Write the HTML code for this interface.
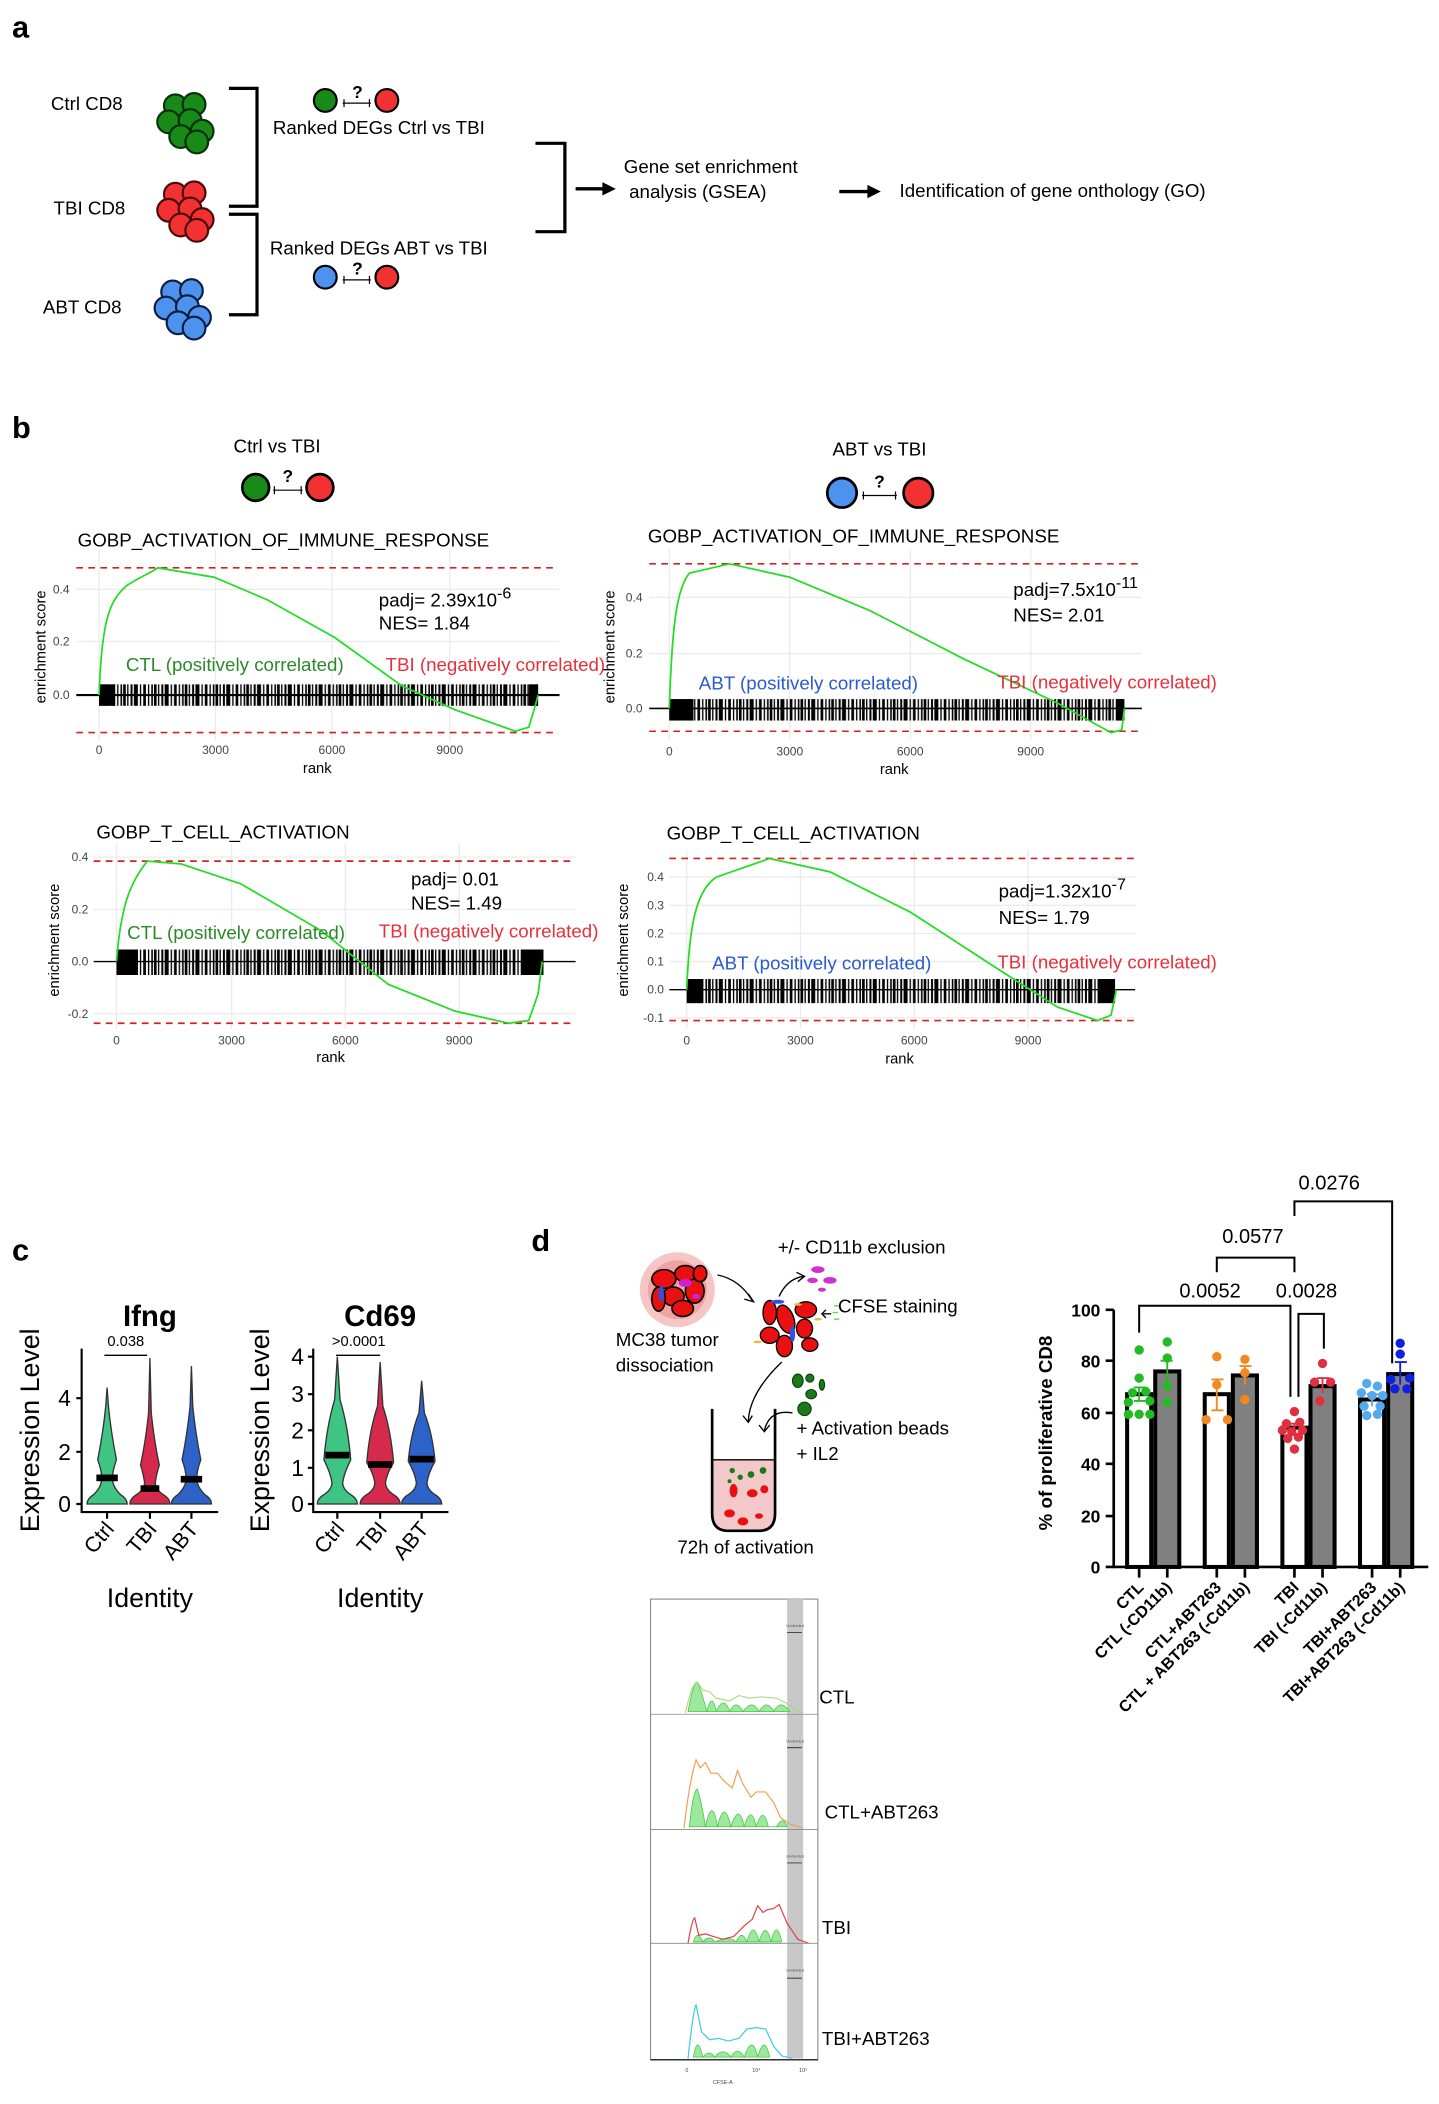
<!DOCTYPE html>
<html><head><meta charset="utf-8"><style>
html,body{margin:0;padding:0;background:#fff;}
svg{display:block;}
text{font-family:"Liberation Sans",Arial,sans-serif;}
</style></head><body>
<svg width="1439" height="2104" viewBox="0 0 1075 1571" preserveAspectRatio="none" xmlns="http://www.w3.org/2000/svg">
<defs>
<pattern id="bc" patternUnits="userSpaceOnUse" width="23" height="40" x="0" y="0">
<rect x="0" y="0" width="2" height="40" fill="#000"/><rect x="3" y="0" width="1" height="40" fill="#000"/>
<rect x="5.5" y="0" width="1.5" height="40" fill="#000"/><rect x="8" y="0" width="3" height="40" fill="#000"/>
<rect x="12.5" y="0" width="1" height="40" fill="#000"/><rect x="15" y="0" width="2" height="40" fill="#000"/>
<rect x="18.5" y="0" width="1" height="40" fill="#000"/><rect x="21" y="0" width="1.2" height="40" fill="#000"/>
</pattern>
<g id="cl">
<circle cx="-6" cy="-11" r="8.5"/><circle cx="8" cy="-12" r="8.5"/><circle cx="-11" cy="1" r="8.5"/>
<circle cx="5" cy="0" r="8.5"/><circle cx="14" cy="8" r="8.5"/><circle cx="-2" cy="12" r="8.5"/><circle cx="10" cy="16" r="8.5"/>
</g>
</defs>
<rect width="1075" height="1571" fill="#fff"/>

<!-- Panel a -->
<text x="9" y="28" font-size="23" font-weight="bold">a</text>
<g font-size="14">
<text x="38" y="82">Ctrl CD8</text>
<text x="40" y="160">TBI CD8</text>
<text x="32" y="234">ABT CD8</text>
</g>
<use href="#cl" x="137" y="90" fill="#178a17" stroke="#0b2e0b" stroke-width="1.6"/>
<use href="#cl" x="137" y="156" fill="#f23232" stroke="#4a0a0a" stroke-width="1.6"/>
<use href="#cl" x="135" y="229" fill="#4d92ee" stroke="#0b1e40" stroke-width="1.6"/>
<g stroke="#000" stroke-width="2.4" fill="none">
<path d="M171,66 H192 V154 H171"/>
<path d="M171,160 H192 V235 H171"/>
<path d="M400,107 H422 V173 H400"/>
</g>
<path d="M430,141 H452" stroke="#000" stroke-width="2.5"/><path d="M450,136 L460,141 L450,146Z"/>
<path d="M627,143 H650" stroke="#000" stroke-width="2.5"/><path d="M648,138 L658,143 L648,148Z"/>
<g stroke="#000" stroke-width="1.6">
<circle cx="243" cy="75" r="8.5" fill="#178a17"/><circle cx="289" cy="75" r="8.5" fill="#f23232"/>
<circle cx="243" cy="207" r="8.5" fill="#4d92ee"/><circle cx="289" cy="207" r="8.5" fill="#f23232"/>
</g>
<g stroke="#000" stroke-width="0.9" fill="none"><path d="M256,77 H277 M257,74 V80 M276,74 V80"/><path d="M256,209 H277 M257,206 V212 M276,206 V212"/></g>
<text x="267" y="73" font-size="13" font-weight="bold" text-anchor="middle">?</text>
<text x="267" y="205" font-size="13" font-weight="bold" text-anchor="middle">?</text>
<g font-size="14">
<text x="283" y="100" text-anchor="middle">Ranked DEGs Ctrl vs TBI</text>
<text x="283" y="190" text-anchor="middle">Ranked DEGs ABT vs TBI</text>
<text x="466" y="129">Gene set enrichment</text>
<text x="470" y="148">analysis (GSEA)</text>
<text x="672" y="147">Identification of gene onthology (GO)</text>
</g>

<!-- Panel b header -->
<text x="9" y="327" font-size="23" font-weight="bold">b</text>
<text x="207" y="338" font-size="14" text-anchor="middle">Ctrl vs TBI</text>
<text x="657" y="340" font-size="14" text-anchor="middle">ABT vs TBI</text>
<g stroke="#000" stroke-width="2">
<circle cx="191" cy="364" r="10" fill="#178a17"/><circle cx="239" cy="364" r="10" fill="#f23232"/>
<circle cx="629" cy="368" r="11" fill="#4d92ee"/><circle cx="686" cy="368" r="11" fill="#f23232"/>
</g>
<g stroke="#000" stroke-width="0.9" fill="none"><path d="M204,366 H226 M205,363 V369 M225,363 V369"/><path d="M644,370 H670 M645,367 V373 M669,367 V373"/></g>
<text x="215" y="360" font-size="13" font-weight="bold" text-anchor="middle">?</text>
<text x="657" y="364" font-size="13" font-weight="bold" text-anchor="middle">?</text>

<!-- Plot 1 -->
<g>
<g stroke="#ebebeb" stroke-width="1"><path d="M57,440 H418 M57,479 H418 M57,519 H418 M74,410 V553 M161,410 V553 M248,410 V553 M336,410 V553"/></g>
<text x="58" y="408" font-size="14">GOBP_ACTIVATION_OF_IMMUNE_RESPONSE</text>
<path d="M57,519 H418" stroke="#000" stroke-width="1.6"/>
<rect x="74" y="511" width="328" height="16" fill="url(#bc)"/>
<rect x="74" y="511" width="12" height="16"/><rect x="395" y="511" width="7" height="16"/>
<path d="M57,424 H415 M57,547 H415" stroke="#d62020" stroke-width="1.2" stroke-dasharray="5,4"/>
<path d="M74,519 C76,462 82,448 95,437 C106,430 112,428 118,424 L160,431 L200,448 L250,476 L300,512 L340,530 L385,546 L395,543 L399,530 L402,519" fill="none" stroke="#22dd22" stroke-width="1.3"/>
<g font-size="9" fill="#444"><text x="52" y="443" text-anchor="end">0.4</text><text x="52" y="482" text-anchor="end">0.2</text><text x="52" y="522" text-anchor="end">0.0</text>
<text x="74" y="563" text-anchor="middle">0</text><text x="161" y="563" text-anchor="middle">3000</text><text x="248" y="563" text-anchor="middle">6000</text><text x="336" y="563" text-anchor="middle">9000</text></g>
<text x="237" y="577" font-size="11" text-anchor="middle">rank</text>
<text transform="translate(34,483) rotate(-90)" font-size="11" text-anchor="middle">enrichment score</text>
<text x="283" y="453" font-size="14">padj= 2.39x10<tspan dy="-6" font-size="12">-6</tspan></text>
<text x="283" y="470" font-size="14">NES= 1.84</text>
<text x="94" y="501" font-size="14" fill="#2a8a2a">CTL (positively correlated)</text>
<text x="288" y="501" font-size="14" fill="#e8303a">TBI (negatively correlated)</text>
</g>

<!-- Plot 2 -->
<g>
<g stroke="#ebebeb"><path d="M485,446 H853 M485,488 H853 M500,410 V552 M590,410 V552 M680,410 V552 M770,410 V552"/></g>
<text x="484" y="405" font-size="14">GOBP_ACTIVATION_OF_IMMUNE_RESPONSE</text>
<path d="M485,529 H853" stroke="#000" stroke-width="1.2"/>
<rect x="500" y="522" width="340" height="16" fill="url(#bc)"/>
<rect x="500" y="522" width="18" height="16"/><rect x="834" y="522" width="6" height="16"/>
<path d="M485,421 H853 M485,546 H853" stroke="#d62020" stroke-width="1.2" stroke-dasharray="5,4"/>
<path d="M500,529 C502,470 505,440 515,428 L545,421 L590,431 L650,456 L720,492 L790,525 L830,547 L838,545 L840,529" fill="none" stroke="#22dd22" stroke-width="1.3"/>
<g font-size="9" fill="#444"><text x="480" y="449" text-anchor="end">0.4</text><text x="480" y="491" text-anchor="end">0.2</text><text x="480" y="532" text-anchor="end">0.0</text>
<text x="500" y="564" text-anchor="middle">0</text><text x="590" y="564" text-anchor="middle">3000</text><text x="680" y="564" text-anchor="middle">6000</text><text x="770" y="564" text-anchor="middle">9000</text></g>
<text x="668" y="578" font-size="11" text-anchor="middle">rank</text>
<text transform="translate(459,483) rotate(-90)" font-size="11" text-anchor="middle">enrichment score</text>
<text x="757" y="445" font-size="14">padj=7.5x10<tspan dy="-6" font-size="12">-11</tspan></text>
<text x="757" y="464" font-size="14">NES= 2.01</text>
<text x="522" y="515" font-size="14" fill="#2a5ad0">ABT (positively correlated)</text>
<text x="745" y="514" font-size="14" fill="#e8303a">TBI (negatively correlated)</text>
</g>

<!-- Plot 3 -->
<g>
<g stroke="#ebebeb"><path d="M70,640 H430 M70,679 H430 M70,757 H430 M87,630 V768 M173,630 V768 M258,630 V768 M343,630 V768"/></g>
<text x="72" y="626" font-size="14">GOBP_T_CELL_ACTIVATION</text>
<path d="M70,718 H430" stroke="#000" stroke-width="1"/>
<rect x="87" y="709" width="319" height="19" fill="url(#bc)"/>
<rect x="87" y="709" width="16" height="19"/><rect x="390" y="709" width="16" height="19"/>
<path d="M70,643 H430 M70,764 H430" stroke="#d62020" stroke-width="1.3" stroke-dasharray="5,4"/>
<path d="M87,718 C90,680 96,660 110,643 L135,645 L180,660 L240,695 L290,735 L340,755 L380,764 L395,762 L402,742 L405,718" fill="none" stroke="#22dd22" stroke-width="1.3"/>
<g font-size="9" fill="#444"><text x="66" y="643" text-anchor="end">0.4</text><text x="66" y="682" text-anchor="end">0.2</text><text x="66" y="721" text-anchor="end">0.0</text><text x="66" y="760" text-anchor="end">-0.2</text>
<text x="87" y="780" text-anchor="middle">0</text><text x="173" y="780" text-anchor="middle">3000</text><text x="258" y="780" text-anchor="middle">6000</text><text x="343" y="780" text-anchor="middle">9000</text></g>
<text x="247" y="793" font-size="11" text-anchor="middle">rank</text>
<text transform="translate(44,702) rotate(-90)" font-size="11" text-anchor="middle">enrichment score</text>
<text x="307" y="661" font-size="14">padj= 0.01</text>
<text x="307" y="679" font-size="14">NES= 1.49</text>
<text x="95" y="701" font-size="14" fill="#2a8a2a">CTL (positively correlated)</text>
<text x="283" y="700" font-size="14" fill="#e8303a">TBI (negatively correlated)</text>
</g>

<!-- Plot 4 -->
<g>
<g stroke="#ebebeb"><path d="M500,655 H848 M500,676 H848 M500,697 H848 M500,718 H848 M500,760 H848 M513,635 V768 M598,635 V768 M683,635 V768 M768,635 V768"/></g>
<text x="498" y="627" font-size="14">GOBP_T_CELL_ACTIVATION</text>
<path d="M500,739 H848" stroke="#000" stroke-width="1"/>
<rect x="513" y="731" width="320" height="18" fill="url(#bc)"/>
<rect x="513" y="731" width="12" height="18"/><rect x="820" y="731" width="13" height="18"/>
<path d="M500,641 H848 M500,762 H848" stroke="#d62020" stroke-width="1.2" stroke-dasharray="5,4"/>
<path d="M513,739 C515,690 520,665 535,655 L575,641 L620,651 L680,681 L740,720 L790,752 L820,762 L830,758 L834,739" fill="none" stroke="#22dd22" stroke-width="1.3"/>
<g font-size="9" fill="#444"><text x="496" y="658" text-anchor="end">0.4</text><text x="496" y="679" text-anchor="end">0.3</text><text x="496" y="700" text-anchor="end">0.2</text><text x="496" y="721" text-anchor="end">0.1</text><text x="496" y="742" text-anchor="end">0.0</text><text x="496" y="763" text-anchor="end">-0.1</text>
<text x="513" y="780" text-anchor="middle">0</text><text x="598" y="780" text-anchor="middle">3000</text><text x="683" y="780" text-anchor="middle">6000</text><text x="768" y="780" text-anchor="middle">9000</text></g>
<text x="672" y="794" font-size="11" text-anchor="middle">rank</text>
<text transform="translate(469,702) rotate(-90)" font-size="11" text-anchor="middle">enrichment score</text>
<text x="746" y="670" font-size="14">padj=1.32x10<tspan dy="-6" font-size="12">-7</tspan></text>
<text x="746" y="690" font-size="14">NES= 1.79</text>
<text x="532" y="724" font-size="14" fill="#2a5ad0">ABT (positively correlated)</text>
<text x="745" y="723" font-size="14" fill="#e8303a">TBI (negatively correlated)</text>
</g>

<!-- Panel c -->
<text x="9" y="941" font-size="23" font-weight="bold">c</text>
<text x="112" y="990" font-size="22" font-weight="bold" text-anchor="middle">Ifng</text>
<text x="284" y="990" font-size="22" font-weight="bold" text-anchor="middle">Cd69</text>
<g stroke="#333" stroke-width="1">
<path d="M65,1123 Q65,1119 70,1116 Q76,1110 76,1104 Q76,1098 73,1090 Q77,1070 79,1050 L80,1036 L81,1050 Q83,1070 87,1090 Q84,1098 84,1104 Q84,1110 90,1116 Q95,1119 95,1123 Z" fill="#3ec483"/>
<path d="M97,1123 Q97,1119 102,1116 Q108,1112 108,1107 Q107,1100 105,1094 Q109,1075 111,1055 L112,1014 L113,1055 Q115,1075 119,1094 Q117,1100 116,1107 Q116,1112 122,1116 Q127,1119 127,1123 Z" fill="#d62a4c"/>
<path d="M128,1123 Q128,1119 133,1116 Q139,1110 139,1104 Q139,1098 136,1090 Q140,1070 142,1050 L143,1020 L144,1050 Q146,1070 150,1090 Q147,1098 147,1104 Q147,1110 153,1116 Q158,1119 158,1123 Z" fill="#2d63c9"/>
<path d="M237,1123 Q237,1119 242,1116 Q248,1112 248,1107 Q247,1100 242,1090 Q244,1065 250,1045 L252,1013 L254,1045 Q260,1065 262,1090 Q257,1100 256,1107 Q256,1112 262,1116 Q267,1119 267,1123 Z" fill="#3ec483"/>
<path d="M269,1123 Q269,1119 274,1116 Q280,1112 280,1107 Q279,1100 274,1092 Q276,1068 282,1050 L284,1017 L286,1050 Q292,1068 294,1092 Q289,1100 288,1107 Q288,1112 294,1116 Q299,1119 299,1123 Z" fill="#d62a4c"/>
<path d="M300,1123 Q300,1119 305,1116 Q311,1112 311,1107 Q310,1100 305,1091 Q307,1070 313,1055 L315,1031 L317,1055 Q323,1070 325,1091 Q320,1100 319,1107 Q319,1112 325,1116 Q330,1119 330,1123 Z" fill="#2d63c9"/>
</g>
<g fill="#000"><rect x="72" y="1101" width="16" height="5"/><rect x="105" y="1109" width="14" height="5"/><rect x="135" y="1102" width="16" height="5"/>
<rect x="243" y="1084" width="18" height="5"/><rect x="275" y="1091" width="18" height="5"/><rect x="306" y="1087" width="18" height="5"/></g>
<g stroke="#000" stroke-width="1.6" fill="none">
<path d="M61,1007 V1129 H163"/><path d="M57,1123 H61 M57,1084 H61 M57,1044 H61 M80,1129 V1134 M112,1129 V1134 M143,1129 V1134"/>
<path d="M234,1007 V1129 H335"/><path d="M230,1123 H234 M230,1096 H234 M230,1068 H234 M230,1041 H234 M230,1013 H234 M252,1129 V1134 M284,1129 V1134 M315,1129 V1134"/>
<path d="M78,1012 H110 M251,1012 H284" stroke-width="1"/>
</g>
<text x="94" y="1005" font-size="11" text-anchor="middle">0.038</text>
<text x="268" y="1005" font-size="11" text-anchor="middle">&gt;0.0001</text>
<g font-size="17" text-anchor="end"><text x="53" y="1129">0</text><text x="53" y="1090">2</text><text x="53" y="1050">4</text>
<text x="227" y="1129">0</text><text x="227" y="1102">1</text><text x="227" y="1074">2</text><text x="227" y="1047">3</text><text x="227" y="1019">4</text></g>
<g font-size="16" text-anchor="end">
<text transform="translate(86,1142) rotate(-50)">Ctrl</text><text transform="translate(118,1142) rotate(-50)">TBI</text><text transform="translate(149,1142) rotate(-50)">ABT</text>
<text transform="translate(258,1142) rotate(-50)">Ctrl</text><text transform="translate(290,1142) rotate(-50)">TBI</text><text transform="translate(321,1142) rotate(-50)">ABT</text>
</g>
<text transform="translate(29,1068) rotate(-90)" font-size="20" text-anchor="middle">Expression Level</text>
<text transform="translate(201,1068) rotate(-90)" font-size="20" text-anchor="middle">Expression Level</text>
<text x="112" y="1200" font-size="20" text-anchor="middle">Identity</text>
<text x="284" y="1200" font-size="20" text-anchor="middle">Identity</text>

<!-- Panel d schematic -->
<text x="397" y="934" font-size="23" font-weight="bold">d</text>
<circle cx="506" cy="963" r="28" fill="#f0a0a0" opacity="0.6"/>
<circle cx="506" cy="963" r="22" fill="#e88080" opacity="0.5"/>
<g stroke="#000" stroke-width="1.2" fill="#e81010">
<ellipse cx="496" cy="955" rx="9" ry="7"/><ellipse cx="512" cy="951" rx="8" ry="6"/><ellipse cx="519" cy="964" rx="7" ry="9"/>
<ellipse cx="503" cy="968" rx="8" ry="7"/><ellipse cx="492" cy="970" rx="5" ry="9"/><ellipse cx="510" cy="977" rx="8" ry="6"/><ellipse cx="523" cy="951" rx="5" ry="6"/>
</g>
<ellipse cx="512" cy="958" rx="5" ry="3" fill="#d020d0"/><ellipse cx="494" cy="966" rx="2" ry="6" fill="#3050e0"/><ellipse cx="520" cy="968" rx="3" ry="2" fill="#d020d0"/>
<path d="M536,952 Q552,955 562,971" stroke="#000" fill="none" stroke-width="1"/><path d="M559,966 L563,972 L556,970" fill="none" stroke="#000"/>
<g stroke="#000" stroke-width="1" fill="#e81010">
<ellipse cx="575" cy="980" rx="5" ry="9"/><ellipse cx="587" cy="985" rx="6" ry="11" transform="rotate(-20 587 985)"/><ellipse cx="602" cy="978" rx="8" ry="6"/>
<ellipse cx="601" cy="992" rx="6" ry="7"/><ellipse cx="575" cy="997" rx="7" ry="6"/><ellipse cx="586" cy="1005" rx="6" ry="8"/><ellipse cx="605" cy="1004" rx="6" ry="5"/>
</g>
<ellipse cx="592" cy="996" rx="2" ry="6" fill="#3050e0"/><ellipse cx="581" cy="972" rx="5" ry="1.5" fill="#3050e0"/>
<g fill="#e0c040"><ellipse cx="566" cy="1002" rx="3" ry="1"/><ellipse cx="611" cy="985" rx="3" ry="1"/><ellipse cx="596" cy="974" rx="3" ry="1"/></g>
<path d="M582,968 Q588,955 600,953" stroke="#000" fill="none"/><path d="M595,950 L601,953 L596,957" fill="none" stroke="#000"/>
<g fill="#d030d0"><ellipse cx="611" cy="948" rx="5" ry="2.5"/><ellipse cx="607" cy="956" rx="4" ry="2"/><ellipse cx="620" cy="956" rx="5" ry="2.5"/><ellipse cx="614" cy="963" rx="3" ry="1.5"/></g>
<path d="M621,981 H615" stroke="#000"/><path d="M617,978 L614,981 L617,984" fill="none" stroke="#000"/>
<g stroke="#50e050" stroke-width="1"><path d="M623,975 H627 M622,980 H626 M623,985 H627"/></g>
<path d="M584,1017 Q560,1040 559,1061" stroke="#000" fill="none"/><path d="M555,1057 L559,1062 L562,1057" fill="none" stroke="#000"/>
<path d="M592,1055 Q575,1052 571,1068" stroke="#000" fill="none"/><path d="M567,1064 L571,1069 L575,1064" fill="none" stroke="#000"/>
<g fill="#1a7a1a" stroke="#0a3a0a" stroke-width="0.8"><ellipse cx="596" cy="1031" rx="4" ry="5"/><ellipse cx="605" cy="1029" rx="3" ry="3"/><ellipse cx="614" cy="1034" rx="2" ry="4"/><ellipse cx="606" cy="1041" rx="4" ry="3.5"/><ellipse cx="601" cy="1052" rx="5" ry="5"/></g>
<path d="M532,1090 H579 V1130 Q579,1142 567,1142 H544 Q532,1142 532,1130 Z" fill="#f2c8c8"/>
<path d="M532,1052 V1130 Q532,1143 544,1143 H567 Q579,1143 579,1130 V1052" fill="none" stroke="#000" stroke-width="2"/>
<path d="M532,1090 H579" stroke="#000" stroke-width="1"/>
<g fill="#e81010"><ellipse cx="548" cy="1113" rx="3" ry="5"/><ellipse cx="562" cy="1115" rx="4" ry="3"/><ellipse cx="545" cy="1130" rx="4" ry="3"/><ellipse cx="555" cy="1136" rx="4" ry="3"/><ellipse cx="571" cy="1112" rx="3" ry="3"/><ellipse cx="567" cy="1132" rx="3" ry="2"/></g>
<g fill="#1a7a1a"><circle cx="547" cy="1098" r="2"/><circle cx="553" cy="1103" r="2"/><circle cx="561" cy="1101" r="2.5"/><circle cx="570" cy="1098" r="2.5"/><circle cx="545" cy="1106" r="1.5"/></g>
<g font-size="14">
<text x="460" y="1005">MC38 tumor</text><text x="460" y="1024">dissociation</text>
<text x="581" y="936">+/- CD11b exclusion</text>
<text x="626" y="980">CFSE staining</text>
<text x="595" y="1071">+ Activation beads</text>
<text x="595" y="1090">+ IL2</text>
<text x="557" y="1160" text-anchor="middle">72h of activation</text>
</g>

<!-- Histograms -->
<rect x="486" y="1194" width="125" height="344" fill="none" stroke="#888" stroke-width="0.8"/>
<rect x="588" y="1194" width="12" height="343" fill="#c8c8c8"/>
<g stroke="#888" stroke-width="0.6"><path d="M486,1280 H611 M486,1366 H611 M486,1451 H611"/></g>
<g font-size="3" fill="#555" text-anchor="middle"><text x="594" y="1215">Undivided</text><text x="594" y="1301">Undivided</text><text x="594" y="1387">Undivided</text><text x="594" y="1472">Undivided</text></g>
<g stroke="#000" stroke-width="0.5"><path d="M588,1219 H599 M588,1305 H599 M588,1391 H599 M588,1477 H599"/></g>
<path d="M514,1278 Q518,1255 521,1256 Q524,1262 528,1278 Q532,1262 535,1278 Q541,1265 545,1278 Q550,1268 555,1278 Q562,1268 567,1278 Q573,1268 578,1278 Q583,1268 590,1278 Z" fill="#9de89d" stroke="#44cc44" stroke-width="0.6"/>
<path d="M512,1279 Q517,1256 521,1256 L525,1262 L530,1263 L535,1268 L545,1270 L552,1266 L560,1268 L568,1267 L580,1268 L588,1272 L595,1277 L600,1279" fill="none" stroke="#a8d878" stroke-width="0.8"/>
<text x="612" y="1272" font-size="14">CTL</text>
<path d="M515,1364 Q518,1335 521,1336 Q524,1345 527,1364 Q532,1340 536,1364 Q541,1342 546,1364 Q552,1345 556,1364 Q561,1346 565,1364 Q570,1347 574,1364 L580,1364 Q585,1355 588,1364 Z" fill="#9de89d" stroke="#44cc44" stroke-width="0.6"/>
<path d="M511,1365 Q515,1330 520,1314 L523,1320 L527,1316 L531,1324 L536,1324 L541,1330 L547,1335 L551,1322 L555,1332 L561,1342 L565,1338 L572,1338 L578,1346 L583,1357 L590,1362 L600,1365" fill="none" stroke="#f0a050" stroke-width="0.9"/>
<text x="616" y="1358" font-size="14">CTL+ABT263</text>
<path d="M518,1450 Q521,1440 525,1450 Q530,1444 534,1450 Q545,1445 550,1450 Q554,1440 558,1450 Q563,1432 567,1450 Q572,1433 576,1450 Q580,1432 584,1450 Z" fill="#9de89d" stroke="#44cc44" stroke-width="0.6"/>
<path d="M514,1451 Q517,1433 519,1432 L522,1445 L527,1444 L533,1446 L540,1448 L548,1446 L556,1438 L562,1433 L566,1423 L570,1428 L573,1426 L578,1425 L582,1422 L588,1436 L596,1448 L604,1451" fill="none" stroke="#e04040" stroke-width="0.9"/>
<text x="614" y="1444" font-size="14">TBI</text>
<path d="M518,1536 Q521,1518 525,1536 Q530,1530 534,1536 Q540,1528 546,1536 Q551,1527 556,1536 Q562,1518 566,1536 Q571,1518 575,1536 Z" fill="#9de89d" stroke="#44cc44" stroke-width="0.6"/>
<path d="M514,1537 Q518,1500 520,1497 L524,1517 L530,1523 L537,1522 L544,1524 L552,1522 L558,1515 L565,1514 L572,1515 L578,1528 L584,1535 L592,1537" fill="none" stroke="#40c8e8" stroke-width="0.9"/>
<text x="614" y="1527" font-size="14">TBI+ABT263</text>
<path d="M486,1538 H611" stroke="#000" stroke-width="0.8"/>
<g font-size="4" fill="#444"><text x="512" y="1547">0</text><text x="562" y="1547">10⁴</text><text x="597" y="1547">10⁵</text><text x="540" y="1556" text-anchor="middle">CFSE-A</text></g>

<!-- Bar chart -->
<g stroke="#000" stroke-width="1.5" fill="none">
<path d="M851,995 V975 H964 V1043"/>
<path d="M970,1043 V981 H989 V1007"/>
<path d="M909,950 V939 H967 V950"/>
<path d="M967,908 V897 H1040 V1018"/>
</g>
<g font-size="15" text-anchor="middle"><text x="904" y="969">0.0052</text><text x="976" y="969">0.0028</text><text x="936" y="928">0.0577</text><text x="993" y="888">0.0276</text></g>
<g stroke="#000" stroke-width="3" >
<rect x="842" y="1041" width="18" height="129" fill="#fff"/><rect x="863" y="1024" width="18" height="146" fill="#808080"/>
<rect x="900" y="1041" width="18" height="129" fill="#fff"/><rect x="921" y="1027" width="18" height="143" fill="#808080"/>
<rect x="958" y="1066" width="18" height="104" fill="#fff"/><rect x="979" y="1035" width="18" height="135" fill="#808080"/>
<rect x="1016" y="1045" width="18" height="125" fill="#fff"/><rect x="1037" y="1026" width="18" height="144" fill="#808080"/>
</g>
<g stroke-width="1.4" fill="none">
<path d="M847,1036 H856 M851,1036 V1046 M847,1046 H856" stroke="#22bb22"/>
<path d="M867,1016 H876 M872,1016 V1032" stroke="#22bb22"/>
<path d="M905,1030 H914 M909,1030 V1053 M905,1053 H914" stroke="#f08a20"/>
<path d="M926,1020 H935 M930,1020 V1034" stroke="#f08a20"/>
<path d="M963,1063 H972 M967,1063 V1070" stroke="#e03040"/>
<path d="M984,1029 H993 M988,1029 V1040" stroke="#e03040"/>
<path d="M1021,1041 H1030 M1025,1041 V1050" stroke="#55aaee"/>
<path d="M1042,1017 H1051 M1046,1017 V1034" stroke="#1020e0"/>
</g>
<g fill="#22bb22"><circle cx="851" cy="1008" r="3.5"/><circle cx="851" cy="1029" r="3.5"/><circle cx="846" cy="1040" r="3.5"/><circle cx="856" cy="1039" r="3.5"/><circle cx="843" cy="1047" r="3.5"/><circle cx="859" cy="1046" r="3.5"/><circle cx="843" cy="1056" r="3.5"/><circle cx="851" cy="1056" r="3.5"/><circle cx="859" cy="1056" r="3.5"/>
<circle cx="872" cy="1002" r="3.5"/><circle cx="872" cy="1014" r="3.5"/><circle cx="872" cy="1035" r="3.5"/><circle cx="872" cy="1047" r="3.5"/></g>
<g fill="#f08a20"><circle cx="909" cy="1013" r="3.5"/><circle cx="909" cy="1034" r="3.5"/><circle cx="901" cy="1060" r="3.5"/><circle cx="917" cy="1060" r="3.5"/><circle cx="930" cy="1015" r="3.5"/><circle cx="930" cy="1025" r="3.5"/><circle cx="930" cy="1045" r="3.5"/></g>
<g fill="#e03040"><circle cx="967" cy="1054" r="3.5"/><circle cx="961" cy="1063" r="3.5"/><circle cx="971" cy="1062" r="3.5"/><circle cx="958" cy="1068" r="3.5"/><circle cx="965" cy="1069" r="3.5"/><circle cx="973" cy="1068" r="3.5"/><circle cx="962" cy="1074" r="3.5"/><circle cx="970" cy="1073" r="3.5"/><circle cx="967" cy="1082" r="3.5"/>
<circle cx="988" cy="1018" r="3.5"/><circle cx="982" cy="1032" r="3.5"/><circle cx="994" cy="1032" r="3.5"/><circle cx="986" cy="1046" r="3.5"/></g>
<g fill="#55aaee"><circle cx="1021" cy="1033" r="3.5"/><circle cx="1029" cy="1035" r="3.5"/><circle cx="1017" cy="1040" r="3.5"/><circle cx="1025" cy="1042" r="3.5"/><circle cx="1033" cy="1042" r="3.5"/><circle cx="1019" cy="1050" r="3.5"/><circle cx="1031" cy="1050" r="3.5"/><circle cx="1021" cy="1057" r="3.5"/><circle cx="1029" cy="1056" r="3.5"/></g>
<g fill="#1020e0"><circle cx="1046" cy="1003" r="3.5"/><circle cx="1046" cy="1011" r="3.5"/><circle cx="1039" cy="1030" r="3.5"/><circle cx="1053" cy="1029" r="3.5"/><circle cx="1042" cy="1037" r="3.5"/><circle cx="1051" cy="1037" r="3.5"/></g>
<g stroke="#000" stroke-width="2" fill="none">
<path d="M832,978 V1170 H1067"/>
<path d="M826,978 H832 M826,1016 H832 M826,1055 H832 M826,1093 H832 M826,1132 H832 M826,1170 H832"/>
<path d="M851,1170 V1178 M872,1170 V1178 M909,1170 V1178 M930,1170 V1178 M967,1170 V1178 M988,1170 V1178 M1025,1170 V1178 M1046,1170 V1178"/>
</g>
<g font-size="13" font-weight="bold" text-anchor="end"><text x="822" y="983">100</text><text x="822" y="1021">80</text><text x="822" y="1060">60</text><text x="822" y="1098">40</text><text x="822" y="1137">20</text><text x="822" y="1175">0</text></g>
<text transform="translate(786,1070) rotate(-90)" font-size="14" font-weight="bold" text-anchor="middle">% of proliferative CD8</text>
<g font-size="12" font-weight="bold" text-anchor="end">
<text transform="translate(855,1186) rotate(-45)">CTL</text>
<text transform="translate(876,1186) rotate(-45)">CTL (-CD11b)</text>
<text transform="translate(913,1186) rotate(-45)">CTL+ABT263</text>
<text transform="translate(934,1186) rotate(-45)">CTL + ABT263 (-Cd11b)</text>
<text transform="translate(971,1186) rotate(-45)">TBI</text>
<text transform="translate(992,1186) rotate(-45)">TBI (-Cd11b)</text>
<text transform="translate(1029,1186) rotate(-45)">TBI+ABT263</text>
<text transform="translate(1050,1186) rotate(-45)">TBI+ABT263 (-Cd11b)</text>
</g>
</svg>
</body></html>
